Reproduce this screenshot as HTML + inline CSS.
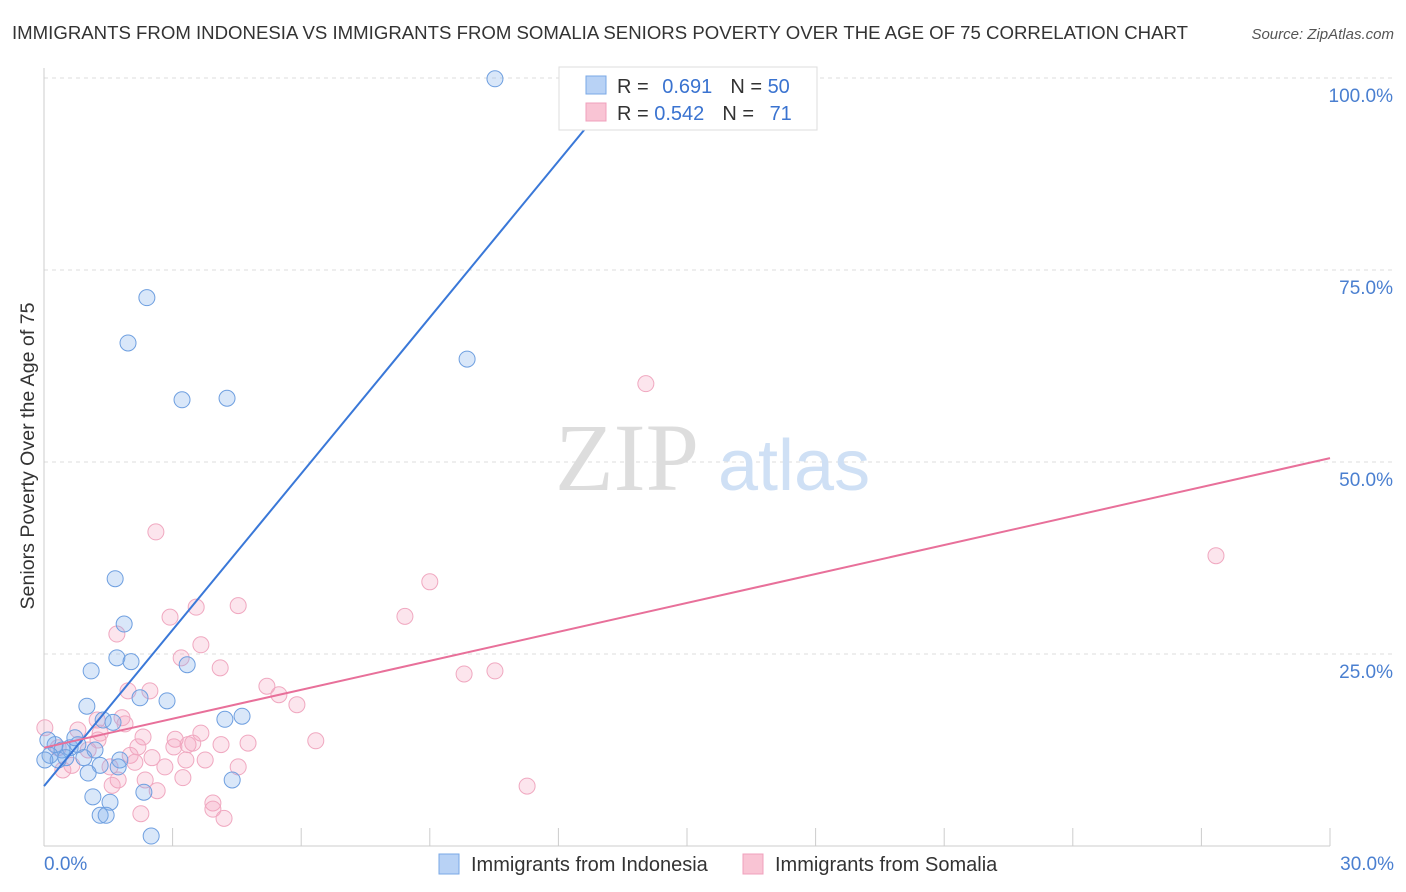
<!DOCTYPE html>
<html><head><meta charset="utf-8"><style>
body{margin:0;background:#fff;font-family:"Liberation Sans",sans-serif}
svg{display:block}
</style></head><body>
<svg width="1406" height="892" viewBox="0 0 1406 892">
<text x="12" y="39" font-size="18" fill="#333" textLength="1176" lengthAdjust="spacingAndGlyphs">IMMIGRANTS FROM INDONESIA VS IMMIGRANTS FROM SOMALIA SENIORS POVERTY OVER THE AGE OF 75 CORRELATION CHART</text>
<text x="1394" y="39" font-size="15" fill="#555" font-style="italic" text-anchor="end">Source: ZipAtlas.com</text>
<g id="grid"></g>
<g id="axes"></g>
<text x="555" y="490" font-size="96" font-family="Liberation Serif,serif" fill="#ddd">ZIP</text>
<text x="718" y="490" font-size="72" fill="#cfe0f5">atlas</text>
<g id="pts"></g>
<g id="lines"></g>
<text transform="translate(34,456) rotate(-90)" font-size="19" fill="#333" text-anchor="middle" textLength="307" lengthAdjust="spacingAndGlyphs">Seniors Poverty Over the Age of 75</text>
<g>
<rect x="559" y="67" width="258" height="63" fill="#fff" stroke="#ddd"/>
<rect x="586" y="76" width="20" height="18" fill="#b8d2f5" stroke="#7aa8e6"/>
<rect x="586" y="103" width="20" height="18" fill="#f9c4d4" stroke="#f0a0bc"/>
<text x="617" y="93" font-size="20" fill="#333">R = <tspan fill="#3a73d0" dx="8">0.691</tspan><tspan dx="18" fill="#333">N = </tspan><tspan fill="#3a73d0">50</tspan></text>
<text x="617" y="120" font-size="20" fill="#333">R = <tspan fill="#3a73d0">0.542</tspan><tspan dx="18" fill="#333">N = </tspan><tspan fill="#3a73d0" dx="10">71</tspan></text>
</g>
<g>
<rect x="439" y="854" width="20" height="20" fill="#b8d2f5" stroke="#7aa8e6"/>
<text x="471" y="871" font-size="20" fill="#333">Immigrants from Indonesia</text>
<rect x="743" y="854" width="20" height="20" fill="#f9c4d4" stroke="#f0a0bc"/>
<text x="775" y="871" font-size="20" fill="#333">Immigrants from Somalia</text>
</g>
</svg>
<script>
const blueX=[10.52,2.40,1.96,3.22,4.27,9.87,1.66,1.87,1.70,2.03,1.10,3.34,2.87,2.24,1.00,1.38,1.61,4.22,4.62,0.26,0.42,0.61,0.79,1.19,0.14,0.33,0.51,0.93,1.31,1.77,1.03,1.73,4.39,1.14,1.54,2.33,1.31,1.45,2.50,0.09,0.02,0.72];
const blueY=[99.9,71.4,65.5,58.1,58.3,63.4,34.8,28.9,24.5,24.0,22.8,23.6,18.9,19.3,18.2,16.4,16.1,16.5,16.9,13.2,12.5,12.8,13.2,12.5,11.8,11.2,11.5,11.5,10.5,11.2,9.5,10.3,8.6,6.4,5.7,7.0,4.0,4.0,1.3,13.8,11.2,14.1];
const pinkX=[14.04,27.34,2.61,9.00,8.42,4.53,3.55,2.94,1.70,3.66,3.20,4.11,9.80,10.52,5.20,5.48,5.90,1.96,2.47,1.24,1.89,1.82,0.79,0.02,6.34,3.06,2.31,3.66,3.36,3.47,4.13,4.76,3.03,2.19,1.26,2.01,3.31,3.76,2.52,2.12,2.82,4.53,0.65,1.54,0.44,2.36,1.73,3.24,1.59,2.64,11.27,3.94,3.94,4.20,2.26,1.03,0.33,1.31];
const pinkY=[60.2,37.8,40.9,34.4,29.9,31.3,31.1,29.8,27.6,26.2,24.5,23.2,22.4,22.8,20.8,19.7,18.4,20.2,20.2,16.4,15.9,16.7,15.1,15.4,13.7,13.9,14.2,14.7,13.2,13.4,13.2,13.4,12.9,12.9,13.8,11.8,11.2,11.2,11.5,10.9,10.3,10.3,10.5,10.3,9.9,8.6,8.6,8.9,7.9,7.2,7.8,5.6,4.8,3.6,4.2,12.5,12.8,14.7];
const blueLine=[7.8,6.78];
const pinkLine=[12.8,50.5];
const yTicks=[25,50,75,100];
const xTicks=[0,3,6,9,12,15,18,21,24,27,30];
const NS='http://www.w3.org/2000/svg';
const sx=v=>44+v*(1286/30), sy=v=>846-v*7.68;
function mk(t,a,p){const e=document.createElementNS(NS,t);for(const k in a)e.setAttribute(k,a[k]);p.appendChild(e);return e;}
const grid=document.getElementById('grid'),axes=document.getElementById('axes'),pts=document.getElementById('pts'),lines=document.getElementById('lines');
yTicks.forEach(t=>{
 const l=mk('line',{x1:44,x2:1394,y1:sy(t),y2:sy(t),stroke:'#ddd','stroke-dasharray':'4,4'},grid);
 
 
 const tx=mk('text',{x:1393,y:sy(t)+24,'font-size':19,fill:'#4a7fd0','text-anchor':'end'},axes);
 tx.textContent=t.toFixed(1)+'%';
 
 
});
mk('line',{x1:44,x2:44,y1:68,y2:846,stroke:'#ccc'},axes);
mk('line',{x1:44,x2:1330,y1:846,y2:846,stroke:'#ccc'},axes);
xTicks.forEach(t=>{
 const l=mk('line',{x1:sx(t),x2:sx(t),y1:828,y2:846,stroke:'#ccc'},axes);
 
 
});
[[0,'start','0.0%',44],[30,'end','30.0%',1394]].forEach(a=>{
 const tx=mk('text',{x:a[3],y:870,'font-size':19,fill:'#4a7fd0','text-anchor':a[1]},axes);
 tx.textContent=a[2];
 
 
});
pinkX.forEach((x,i)=>{
 const c=mk('circle',{cx:sx(x),cy:sy(pinkY[i]),r:8,fill:'rgba(245,160,190,0.28)',stroke:'#f0a8c0','stroke-width':1},pts);
 
 
});
blueX.forEach((x,i)=>{
 const c=mk('circle',{cx:sx(x),cy:sy(blueY[i]),r:8,fill:'rgba(130,175,235,0.3)',stroke:'#6e9fe0','stroke-width':1},pts);
 
 
});
const xEnd=(100-blueLine[0])/blueLine[1];
const bl=mk('line',{x1:sx(0),y1:sy(blueLine[0]),x2:sx(xEnd),y2:sy(100),stroke:'#3a78d8','stroke-width':2},lines);


const pl=mk('line',{x1:sx(0),y1:sy(pinkLine[0]),x2:sx(30),y2:sy(pinkLine[1]),stroke:'#e8709a','stroke-width':2},lines);


</script>
</body></html>
